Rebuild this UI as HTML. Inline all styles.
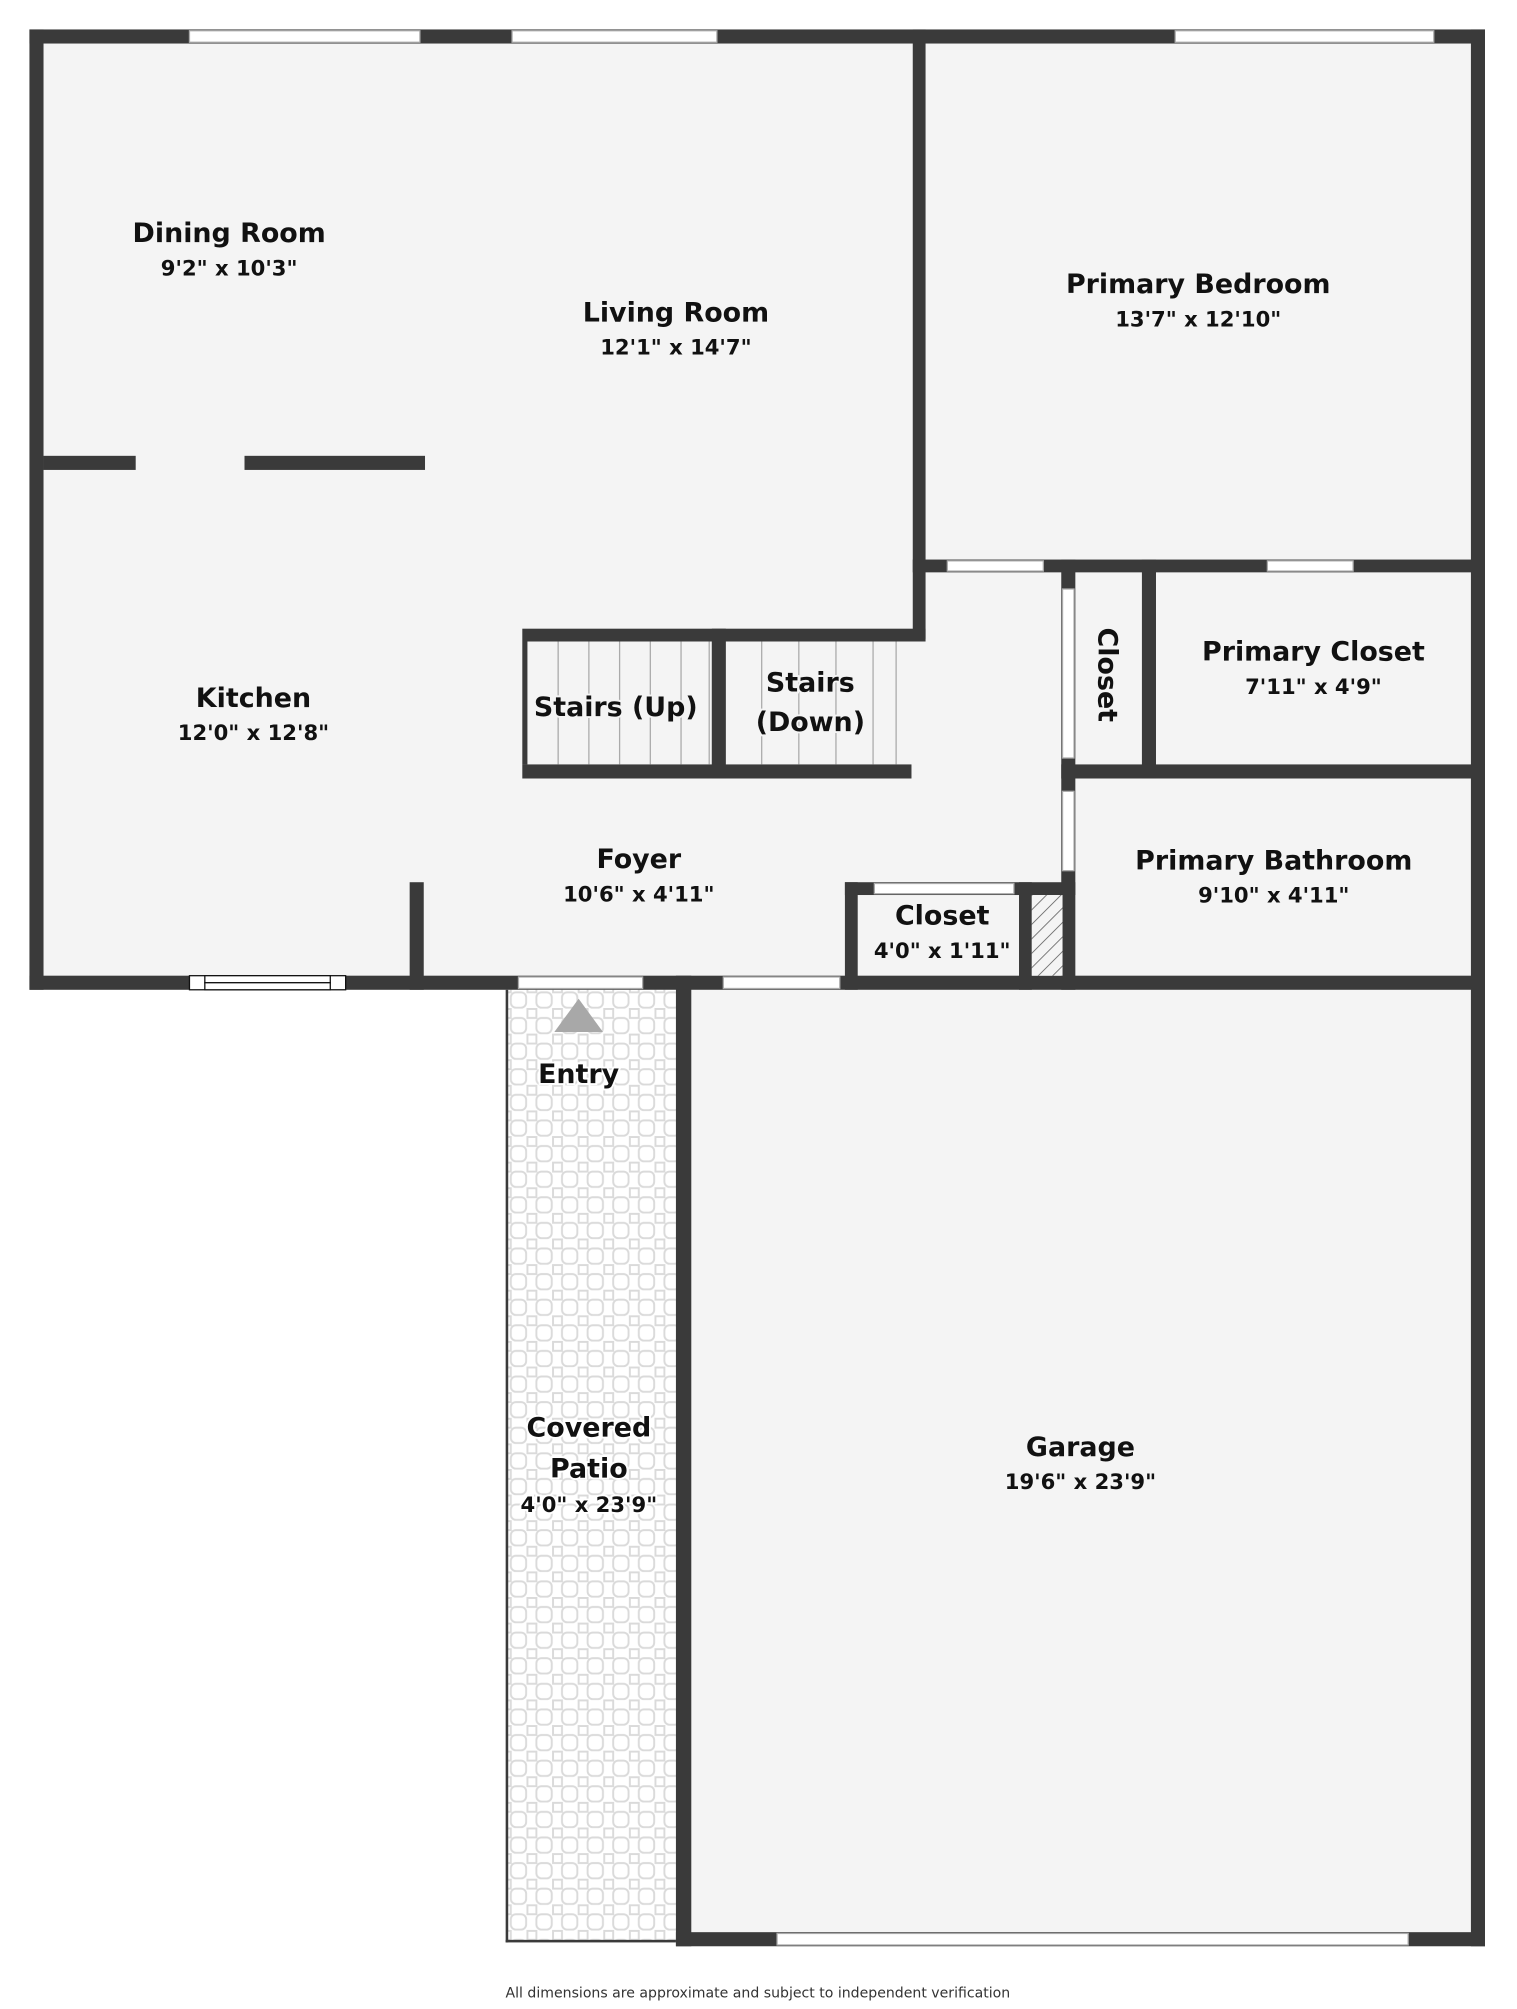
<!DOCTYPE html>
<html><head><meta charset="utf-8"><style>
html,body{margin:0;padding:0;background:#fff}
svg{display:block}
text{font-family:"DejaVu Sans","Liberation Sans",sans-serif;font-weight:bold;fill:#111;text-anchor:middle;paint-order:stroke;stroke:#f4f4f4;stroke-width:3px}
.l{font-size:21px}.d{font-size:16.5px}
</style></head><body>
<svg width="1517" height="2009" viewBox="0 0 1185 1569" preserveAspectRatio="none" xmlns="http://www.w3.org/2000/svg">
<defs>
<pattern id="tile" x="397" y="773" width="20" height="20" patternUnits="userSpaceOnUse">
<rect width="20" height="20" fill="#fff"/>
<rect x="2" y="2" width="12" height="12" rx="4" fill="none" stroke="#dadada" stroke-width="1.5"/>
<rect x="15" y="15" width="7" height="7" fill="none" stroke="#dadada" stroke-width="1.5"/>
<rect x="-5" y="15" width="7" height="7" fill="none" stroke="#dadada" stroke-width="1.5"/>
<rect x="15" y="-5" width="7" height="7" fill="none" stroke="#dadada" stroke-width="1.5"/>
<rect x="-5" y="-5" width="7" height="7" fill="none" stroke="#dadada" stroke-width="1.5"/>
</pattern>
<pattern id="hatch" width="8" height="8" patternUnits="userSpaceOnUse" patternTransform="rotate(45)">
<rect width="8" height="8" fill="#f4f4f4"/><line x1="0" y1="0" x2="0" y2="8" stroke="#555" stroke-width="1.2"/>
</pattern>
</defs>
<g fill="#f4f4f4">
<rect x="23" y="23" width="1137" height="750"/>
<rect x="528" y="762" width="632" height="758"/>
</g>
<rect x="396" y="773" width="132" height="743" fill="url(#tile)"/>
<g fill="#3a3a3a">
<rect x="23" y="23" width="1137" height="11"/>
<rect x="23" y="23" width="11" height="750"/>
<rect x="1149" y="23" width="11" height="1497"/>
<rect x="23" y="762" width="1137" height="11"/>
<rect x="713" y="23" width="10" height="476"/>
<rect x="713" y="437" width="447" height="10"/>
<rect x="34" y="356" width="72" height="11"/>
<rect x="191" y="356" width="141" height="11"/>
<rect x="408" y="491" width="315" height="10"/>
<rect x="408" y="597" width="304" height="11"/>
<rect x="408" y="501" width="4" height="96"/>
<rect x="556" y="491" width="11" height="117"/>
<rect x="829" y="437" width="11" height="336"/>
<rect x="892" y="437" width="11" height="171"/>
<rect x="829" y="597" width="331" height="11"/>
<rect x="320" y="689" width="11" height="84"/>
<rect x="660" y="689" width="180" height="10"/>
<rect x="660" y="689" width="10" height="84"/>
<rect x="796" y="689" width="10" height="84"/>
<rect x="528" y="762" width="12" height="758"/>
<rect x="528" y="1509" width="632" height="11"/>
<rect x="395" y="773" width="2" height="744"/>
<rect x="395" y="1515" width="133" height="2"/>
</g>
<rect x="806" y="699" width="24" height="63" fill="url(#hatch)"/>
<g fill="#fff" stroke="#aaa" stroke-width="1">
<rect x="148" y="24" width="180" height="9"/>
<rect x="400" y="24" width="160" height="9"/>
<rect x="918" y="24" width="202" height="9"/>
<rect x="740" y="438" width="75" height="8"/>
<rect x="990" y="438" width="67" height="8"/>
<rect x="830" y="460" width="9" height="132"/>
<rect x="830" y="618" width="9" height="62"/>
<rect x="683" y="690" width="109" height="8"/>
<rect x="405" y="763" width="97" height="9"/>
<rect x="565" y="763" width="91" height="9"/>
<rect x="607" y="1510" width="493" height="9"/>
</g>
<g fill="#fff" stroke="#111" stroke-width="1">
<rect x="148" y="762" width="122" height="11"/>
<rect x="160" y="762" width="98" height="5.5"/>
<rect x="160" y="767.5" width="98" height="5.5"/>
</g>
<g stroke="#aaa" stroke-width="1">
<line x1="436" y1="501" x2="436" y2="597"/><line x1="460" y1="501" x2="460" y2="597"/>
<line x1="484" y1="501" x2="484" y2="597"/><line x1="508" y1="501" x2="508" y2="597"/>
<line x1="532" y1="501" x2="532" y2="597"/><line x1="554" y1="501" x2="554" y2="597"/>
<line x1="595" y1="501" x2="595" y2="597"/><line x1="624" y1="501" x2="624" y2="597"/>
<line x1="653" y1="501" x2="653" y2="597"/><line x1="682" y1="501" x2="682" y2="597"/>
<line x1="700" y1="501" x2="700" y2="597"/>
</g>
<polygon points="452,780 471,806 433,806" fill="#a8a8a8"/>
<text class="l" x="179" y="189">Dining Room</text><text class="d" x="179" y="215">9'2" x 10'3"</text>
<text class="l" x="528" y="251">Living Room</text><text class="d" x="528" y="277">12'1" x 14'7"</text>
<text class="l" x="936" y="229">Primary Bedroom</text><text class="d" x="936" y="255">13'7" x 12'10"</text>
<text class="l" x="198" y="552">Kitchen</text><text class="d" x="198" y="578">12'0" x 12'8"</text>
<text class="l" x="481" y="559">Stairs (Up)</text>
<text class="l" x="633" y="540">Stairs</text><text class="l" x="633" y="571">(Down)</text>
<text class="l" x="1026" y="516">Primary Closet</text><text class="d" x="1026" y="542">7'11" x 4'9"</text>
<text class="l" transform="translate(858,527) rotate(90)">Closet</text>
<text class="l" x="499" y="678">Foyer</text><text class="d" x="499" y="704">10'6" x 4'11"</text>
<text class="l" x="995" y="679">Primary Bathroom</text><text class="d" x="995" y="705">9'10" x 4'11"</text>
<text class="l" x="736" y="722">Closet</text><text class="d" x="736" y="748">4'0" x 1'11"</text>
<text class="l" x="452" y="846" style="stroke:#fff">Entry</text>
<text class="l" x="460" y="1122" style="stroke:#fff">Covered</text><text class="l" x="460" y="1154" style="stroke:#fff">Patio</text><text class="d" x="460" y="1181" style="stroke:#fff">4'0" x 23'9"</text>
<text class="l" x="844" y="1137">Garage</text><text class="d" x="844" y="1163">19'6" x 23'9"</text>
<text x="592" y="1560" style="font-size:11px;font-weight:normal;stroke:none;fill:#333">All dimensions are approximate and subject to independent verification</text>
</svg>
</body></html>
